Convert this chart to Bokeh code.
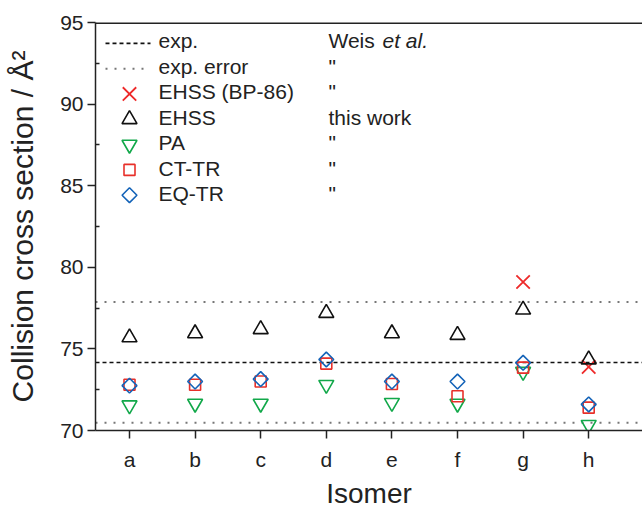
from bokeh.plotting import figure
from bokeh.models import Range1d, Label, Span, FixedTicker
from bokeh.embed import file_html
from bokeh.resources import INLINE
import numpy as np

isomers = ["a", "b", "c", "d", "e", "f", "g", "h"]
exp_value = 74.17
exp_error = 3.7
ehss_bp86 = [None, None, None, None, None, None, 79.1, 73.9]
ehss = [75.7, 75.95, 76.2, 77.2, 75.95, 75.85, 77.4, 74.35]
pa = [71.55, 71.65, 71.65, 72.8, 71.7, 71.65, 73.6, 70.35]
ct_tr = [72.8, 72.8, 73.0, 74.1, 72.85, 72.1, 73.85, 71.4]
eq_tr = [72.75, 73.0, 73.15, 74.35, 73.0, 73.0, 74.15, 71.6]
series_labels = ["exp.", "exp. error", "EHSS (BP-86)", "EHSS", "PA", "CT-TR", "EQ-TR"]
sources = ["Weis", '"', '"', "this work", '"', '"', '"']

x = list(range(1, len(isomers) + 1))

FONT = "Liberation Sans"
TXT = "#222222"

# layout (pixels)
W, H = 642, 511
BL, BT, BB = 95, 22, 78
FW, FH = W - BL, H - BT - BB
PX_PER_X = 65.6
XLO = 1 - 34 / PX_PER_X
XHI = XLO + FW / PX_PER_X
YLO, YHI = 70, 95


def xd(px):  # frame pixel -> data x
    return XLO + px / PX_PER_X


def yd(py):  # frame pixel from top -> data y
    return YHI - py * (YHI - YLO) / FH


p = figure(width=W, height=H, output_backend="svg", toolbar_location=None,
           x_range=Range1d(XLO, XHI), y_range=Range1d(YLO, YHI),
           min_border_left=BL, min_border_top=BT, min_border_bottom=BB, min_border_right=0)
p.outline_line_color = None
p.grid.visible = False

# axes
p.xaxis.ticker = FixedTicker(ticks=x)
p.xaxis.major_label_overrides = {i: s for i, s in zip(x, isomers)}
p.yaxis.ticker = FixedTicker(ticks=[70, 75, 80, 85, 90, 95],
                             minor_ticks=[72.5, 77.5, 82.5, 87.5, 92.5])
for ax in (p.xaxis, p.yaxis):
    ax.axis_line_color = TXT
    ax.axis_line_width = 1.5
    ax.major_tick_line_color = TXT
    ax.major_tick_line_width = 1.5
    ax.major_tick_out = 8
    ax.major_tick_in = 0
    ax.major_label_text_font = FONT
    ax.major_label_text_font_size = "21px"
    ax.major_label_text_color = TXT
    ax.axis_label_text_font = FONT
    ax.axis_label_text_font_style = "normal"
    ax.axis_label_text_color = TXT
p.xaxis.minor_tick_line_color = None
p.yaxis.minor_tick_line_color = TXT
p.yaxis.minor_tick_line_width = 1.5
p.yaxis.minor_tick_in = 4
p.yaxis.minor_tick_out = 0
p.xaxis.axis_label = "Isomer"
p.xaxis.axis_label_text_font_size = "28px"
p.xaxis.major_label_standoff = 9
p.xaxis.axis_label_standoff = 4
p.yaxis.axis_label = "Collision cross section / Å²"
p.yaxis.axis_label_text_font_size = "30px"
p.yaxis.major_label_standoff = 4
p.yaxis.axis_label_standoff = 18

# top border
p.add_layout(Span(location=YHI, dimension="width", line_color=TXT, line_width=3))

# reference lines
exp_style = dict(line_color="#111111", line_width=1.6, line_dash="4 3")
err_style = dict(line_color="#777777", line_width=2, line_dash="2 7")
p.line([XLO, XHI], [exp_value, exp_value], **exp_style)
p.line([XLO, XHI], [exp_value + exp_error] * 2, **err_style)
p.line([XLO, XHI], [exp_value - exp_error] * 2, **err_style)

styles = [
    dict(marker="x", size=19, line_color="#ee2a2a", line_width=1.8),
    dict(marker="triangle", size=15, fill_color=None, line_color="#111111", line_width=1.6),
    dict(marker="inverted_triangle", size=15, fill_color=None, line_color="#12a84a", line_width=1.6),
    dict(marker="square", size=11, fill_color=None, line_color="#e8302a", line_width=1.6),
    dict(marker="square", size=10.5, angle=np.pi / 4, fill_color=None, line_color="#1463b8", line_width=1.6),
]

bx = [xi for xi, v in zip(x, ehss_bp86) if v is not None]
by = [v for v in ehss_bp86 if v is not None]
p.scatter(bx, by, **styles[0])
p.scatter(x, ehss, **styles[1])
p.scatter(x, pa, **styles[2])
p.scatter(x, ct_tr, **styles[3])
p.scatter(x, eq_tr, **styles[4])

# legend (drawn manually, two text columns)
ROW0, PITCH = 21, 25.5
LX0, LX1, MX, TX, SX = 10, 55, 34, 63, 233
for i, lab in enumerate(series_labels):
    py = ROW0 + i * PITCH
    if i == 0:
        p.line([xd(LX0), xd(LX1)], [yd(py)] * 2, **exp_style)
    elif i == 1:
        p.line([xd(LX0), xd(LX1)], [yd(py)] * 2, **err_style)
    else:
        p.scatter([xd(MX)], [yd(py)], **styles[i - 2])
    p.add_layout(Label(x=TX, y=FH - py, x_units="screen", y_units="screen",
                       text=lab, text_font=FONT, text_font_size="21px", text_color=TXT,
                       text_baseline="middle"))
    p.add_layout(Label(x=SX, y=FH - py, x_units="screen", y_units="screen",
                       text=sources[i], text_font=FONT, text_font_size="21px", text_color=TXT,
                       text_baseline="middle"))
p.add_layout(Label(x=287, y=FH - ROW0, x_units="screen", y_units="screen",
                   text="et al.", text_font=FONT, text_font_size="21px", text_color=TXT,
                   text_font_style="italic", text_baseline="middle"))

open("out.html", "w").write(file_html(p, INLINE))
